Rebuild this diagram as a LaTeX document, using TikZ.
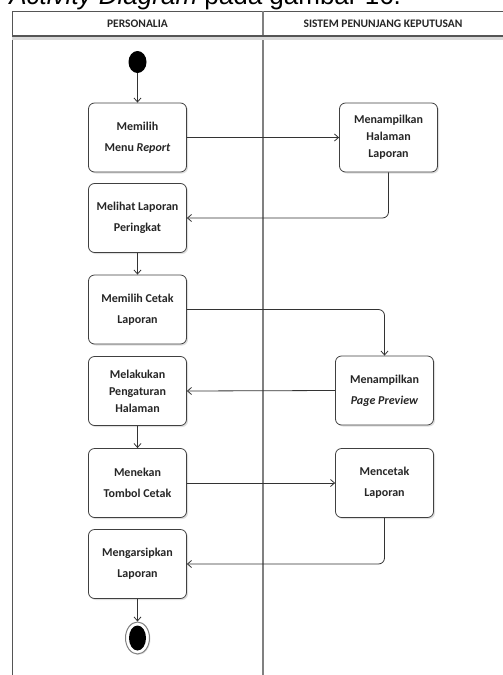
\documentclass[tikz,border=0pt]{standalone}
\usepackage{fontspec}
\setmainfont{Carlito}
\newfontfamily\capfont{Liberation Sans}
\usetikzlibrary{arrows.meta, positioning, shapes.geometric, shadows}
\definecolor{laneGray}{HTML}{555555}

\begin{document}
\begin{tikzpicture}[x=1pt, y=-1pt,
      >={Straight Barb[length=4pt, width=7pt]},
      line width=0.8pt, draw=black!80,
      act/.style={rectangle, rounded corners=6pt, draw=black!75,
                  fill=white, minimum width=98pt, minimum height=69pt,
                  align=center, inner sep=2pt, text=black!85,
                  font=\bfseries\fontsize{12}{17}\selectfont,
                  drop shadow={opacity=0.25, shadow xshift=1.5pt,
                               shadow yshift=-1.5pt}},
      flow/.style={->, draw=black!80, rounded corners=6pt},
      lane/.style={draw=laneGray, line width=0.9pt},
      head/.style={font=\bfseries\fontsize{11.5}{14}\selectfont,
                   text=black!85, inner sep=0pt}]
    \useasboundingbox (0,0) rectangle (503,675);
    \clip (0,0) rectangle (503,675);

    \node[anchor=base west, inner sep=0pt, font=\capfont\fontsize{26}{30}\selectfont]
      (caption) at (9,4.5) {\textit{Activity Diagram} pada gambar 16.};

    \draw[lane] (12,11) -- (503,11);
    \draw[lane] (12,11) -- (12,675);
    \draw[lane, draw=gray, line width=1.6pt] (263,11) -- (263,675);
    \draw[draw=black!15, line width=2.5pt] (12,38.5) -- (503,38.5);
    \draw[lane, line width=1.3pt] (12,36) -- (503,36);
    \node[head] (pers) at (137.5,24) {PERSONALIA};
    \node[head] (spk) at (383,24) {SISTEM PENUNJANG KEPUTUSAN};

    \node[ellipse, fill=black, minimum width=18pt, minimum height=22pt,
          inner sep=0pt] (start) at (137.5,62) {};

    \node[act] (b1) at (137.5,137.5) {Memilih\\[4pt] Menu \textit{Report}};
    \node[act] (b2) at (137.5,218) {Melihat Laporan\\[4pt] Peringkat};
    \node[act] (b3) at (137.5,309.5) {Memilih Cetak\\[4pt] Laporan};
    \node[act] (b4) at (137.5,391) {Melakukan\\ Pengaturan\\ Halaman};
    \node[act] (b5) at (137.5,483) {Menekan\\[4pt] Tombol Cetak};
    \node[act] (b6) at (137.5,564) {Mengarsipkan\\[4pt] Laporan};

    \node[act] (r1) at (388.5,137.5) {Menampilkan\\ Halaman\\ Laporan};
    \node[act] (r2) at (384.5,390.5) {Menampilkan\\[4pt] \textit{Page Preview}};
    \node[act] (r3) at (384.5,483) {Mencetak\\[4pt] Laporan};

    \node[ellipse, draw=gray, line width=1pt, fill=white,
          minimum width=24pt, minimum height=32pt, inner sep=0pt,
          drop shadow={opacity=0.2, shadow xshift=1pt, shadow yshift=-1pt}]
      (end) at (137.5,638) {};
    \node[ellipse, fill=black, minimum width=17pt, minimum height=25pt,
          inner sep=0pt] (endin) at (end.center) {};

    \draw[flow] (start) -- (b1);
    \draw[flow] (b1.east) -- (r1.west);
    \draw[flow] (r1.south) |- (b2.east);
    \draw[flow] (b2) -- (b3);
    \draw[flow] (b3.east) -| (r2.north);
    \draw[flow] (r2.west) -- (b4.east);
    \draw[flow] (b4) -- (b5);
    \draw[flow] (b5.east) -- (r3.west);
    \draw[flow] (r3.south) |- (b6.east);
    \draw[flow] (b6) -- (end);
  \end{tikzpicture}
\end{document}
